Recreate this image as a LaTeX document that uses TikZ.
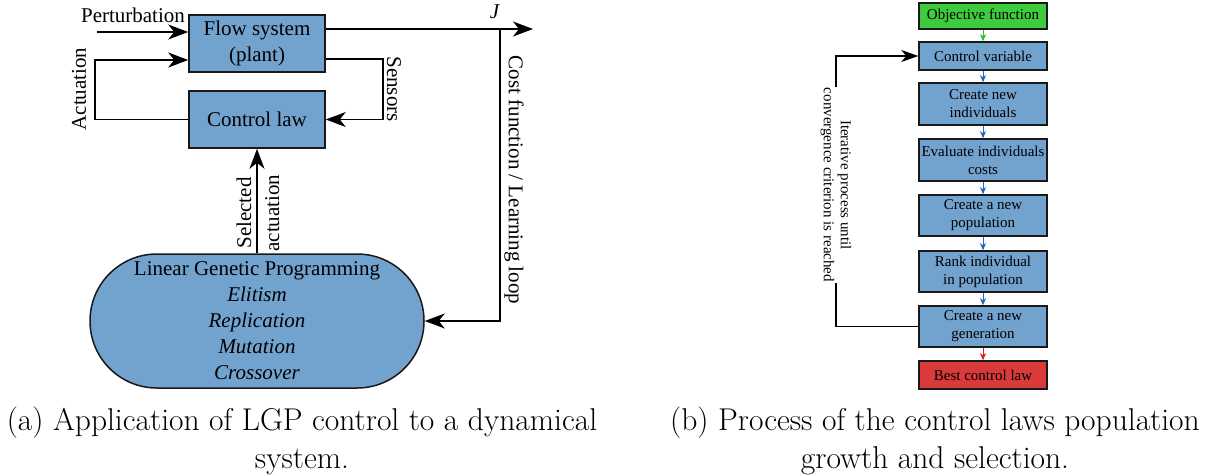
\documentclass[tikz,border=0pt]{standalone}
\usepackage{fontspec}
\newfontfamily\tnr{Liberation Serif}
\usetikzlibrary{arrows.meta}
\definecolor{boxblue}{RGB}{114,162,206}
\definecolor{boxgreen}{RGB}{62,204,62}
\definecolor{boxred}{RGB}{218,58,58}
\definecolor{arrgreen}{RGB}{40,190,40}
\definecolor{arrblue}{RGB}{30,105,185}
\definecolor{arrred}{RGB}{215,30,30}
\tikzset{
  blk/.style={draw=black!90, line width=1.6pt, fill=boxblue, align=center, inner sep=1pt,
    font=\tnr\fontsize{21}{26}\selectfont},
  lbl/.style={font=\tnr\fontsize{21}{26}\selectfont, inner sep=1pt, align=center},
  arr/.style={line width=1.5pt, -{Stealth[length=20pt,width=15pt,inset=6pt]}},
  fbox/.style={draw=black!90, line width=1.5pt, fill=boxblue, align=center, inner sep=1pt,
    minimum width=128pt, font=\tnr\fontsize{15}{18}\selectfont},
  farr/.style={line width=1pt, -{Stealth[length=7pt,width=6pt,inset=2pt]}},
  looparr/.style={line width=1.2pt, -{Stealth[length=17pt,width=12pt,inset=5pt]}},
  captext/.style={font=\fontsize{31.5}{35}\selectfont, align=center, inner sep=0pt, anchor=north}
}
\begin{document}
\begin{tikzpicture}[x=1pt,y=-1pt]
\useasboundingbox (0,0) rectangle (1209,474);

% ---------- feedback loop with LGP ----------
\node[blk, minimum width=136pt, minimum height=57pt] (flow) at (257,43.5) {Flow system\\(plant)};
\node[blk, minimum width=136pt, minimum height=57pt] (ctrl) at (257,119.5) {Control law};
\node[blk, line width=1.5pt, minimum width=334pt, minimum height=134pt, rounded corners=66.9pt,
      font=\tnr\fontsize{21}{26}\selectfont] (lgp) at (257,321)
  {Linear Genetic Programming\\\textit{Elitism}\\\textit{Replication}\\\textit{Mutation}\\\textit{Crossover}};

% perturbation input
\coordinate (pin) at (97,32);
\draw[arr] (pin) -- (pin -| flow.west);
\node[lbl] (pert) at (133,15) {Perturbation};

% actuation loop
\coordinate (actc) at (95,119.5);
\coordinate (acty) at (95,60);
\draw[arr] (ctrl.west) -- (actc) -- (acty) -- (acty -| flow.west);
\node[lbl, rotate=90] (actl) at (79,89) {Actuation};

% sensors loop
\coordinate (sen1) at (383,59);
\draw[arr] (sen1 -| flow.east) -- (sen1) |- (ctrl.east);
\node[lbl, rotate=-90] (senl) at (394,89) {Sensors};

% output J and learning loop
\coordinate (jend) at (533,29);
\coordinate (jturn) at (500,29);
\draw[arr] (jend -| flow.east) -- (jend);
\node[lbl] (jl) at (495,12) {\textit{J}};
\draw[arr] (jturn) |- (lgp.east);
\node[lbl, rotate=-90] (costl) at (514,180) {Cost function / Learning loop};

% selected actuation
\draw[arr] (lgp.north) -- (ctrl.south);
\node[lbl, rotate=90, font=\tnr\fontsize{21}{28}\selectfont] (sell) at (258,213) {Selected\\actuation};

% ---------- population growth flowchart ----------
\node[fbox, fill=boxgreen, minimum height=26pt] (obj) at (983,16) {Objective function};
\node[fbox, minimum height=28pt] (cv)  at (983,56) {Control variable};
\node[fbox, minimum height=42pt] (cni) at (983,104) {Create new\\individuals};
\node[fbox, minimum height=42pt] (eic) at (983,160) {Evaluate individuals\\costs};
\node[fbox, minimum height=41pt] (cnp) at (983,215.5) {Create a new\\population};
\node[fbox, minimum height=41pt] (rip) at (983,271.5) {Rank individual\\in population};
\node[fbox, minimum height=41pt] (cng) at (983,326.5) {Create a new\\generation};
\node[fbox, fill=boxred, minimum height=28pt] (best) at (983,375) {Best control law};

\draw[farr, arrgreen] (obj) -- (cv);
\draw[farr, arrblue] (cv) -- (cni);
\draw[farr, arrblue] (cni) -- (eic);
\draw[farr, arrblue] (eic) -- (cnp);
\draw[farr, arrblue] (cnp) -- (rip);
\draw[farr, arrblue] (rip) -- (cng);
\draw[farr, arrred] (cng) -- (best);

% iteration loop
\coordinate (it1) at (836,326.5);
\draw[looparr] (cng.west) -- (it1) |- (cv.west);
\node[rotate=-90, fill=white, inner sep=1pt, align=center,
      font=\tnr\fontsize{15}{17}\selectfont] (itl) at (836,185)
  {Iterative process until\\convergence criterion is reached};

% ---------- captions ----------
\node[captext] (capa) at (302,407) {(a) Application of LGP control to a dynamical\\[3pt]system.};
\node[captext] (capb) at (935,407) {(b) Process of the control laws population\\[3pt]growth and selection.};
\end{tikzpicture}
\end{document}
